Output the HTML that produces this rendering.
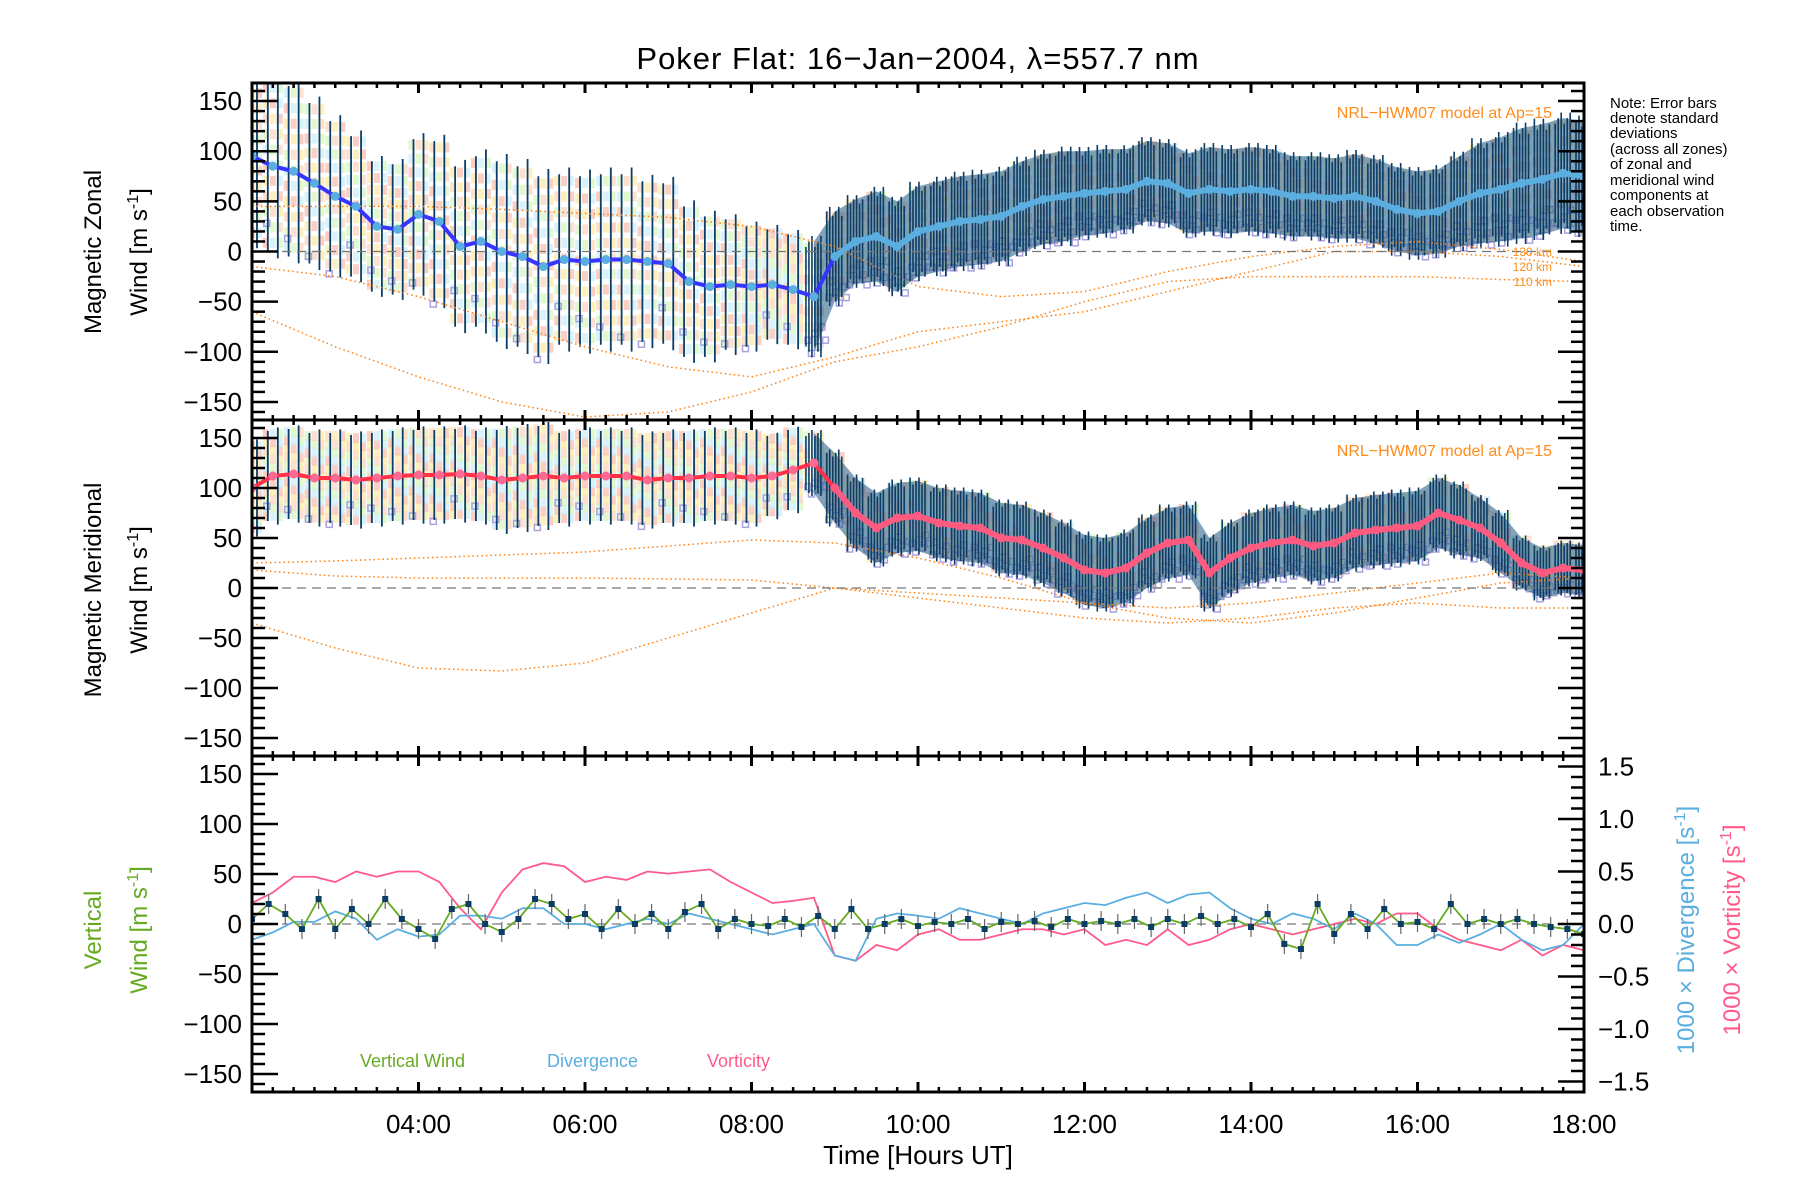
<!DOCTYPE html>
<html><head><meta charset="utf-8"><style>
html,body{margin:0;padding:0;background:#fff;}
svg{display:block;font-family:"Liberation Sans",sans-serif;}
</style></head><body>
<svg id="chart" width="1800" height="1200" viewBox="0 0 1800 1200" xmlns="http://www.w3.org/2000/svg">
<defs>
<clipPath id="c1"><rect x="252" y="83" width="1332" height="337"/></clipPath>
<clipPath id="c2"><rect x="252" y="420" width="1332" height="336"/></clipPath>
<clipPath id="c3"><rect x="252" y="756" width="1332" height="336"/></clipPath>
</defs>
<text x="918" y="69" font-size="31" text-anchor="middle" letter-spacing="1">Poker Flat: 16−Jan−2004, λ=557.7 nm</text>
<g id="p1" clip-path="url(#c1)"></g>
<g id="p2" clip-path="url(#c2)"></g>
<g id="p3" clip-path="url(#c3)"></g>
<g id="axes"></g>
<text transform="translate(101,252) rotate(-90)" font-size="24" text-anchor="middle">Magnetic Zonal</text>
<text transform="translate(147,252) rotate(-90)" font-size="24" text-anchor="middle">Wind [m s<tspan dy="-9" font-size="16">-1</tspan><tspan dy="9">]</tspan></text>
<text transform="translate(101,590) rotate(-90)" font-size="24" text-anchor="middle">Magnetic Meridional</text>
<text transform="translate(147,590) rotate(-90)" font-size="24" text-anchor="middle">Wind [m s<tspan dy="-9" font-size="16">-1</tspan><tspan dy="9">]</tspan></text>
<text transform="translate(101,930) rotate(-90)" font-size="24" text-anchor="middle" fill="#66aa22">Vertical</text>
<text transform="translate(147,930) rotate(-90)" font-size="24" text-anchor="middle" fill="#66aa22">Wind [m s<tspan dy="-9" font-size="16">-1</tspan><tspan dy="9">]</tspan></text>
<text transform="translate(1694,930) rotate(-90)" font-size="24" text-anchor="middle" fill="#5aaee0">1000 × Divergence [s<tspan dy="-9" font-size="16">-1</tspan><tspan dy="9">]</tspan></text>
<text transform="translate(1740,930) rotate(-90)" font-size="24" text-anchor="middle" fill="#ff5a8a">1000 × Vorticity [s<tspan dy="-9" font-size="16">-1</tspan><tspan dy="9">]</tspan></text>
<text x="918" y="1164" font-size="26" text-anchor="middle">Time [Hours UT]</text>
<g font-size="15" fill="#000">
<text x="1610" y="108">Note: Error bars</text><text x="1610" y="123">denote standard</text><text x="1610" y="138">deviations</text><text x="1610" y="154">(across all zones)</text><text x="1610" y="169">of zonal and</text><text x="1610" y="185">meridional wind</text><text x="1610" y="200">components at</text><text x="1610" y="216">each observation</text><text x="1610" y="231">time.</text>
</g>
<text x="1552" y="118" font-size="16" fill="#ff8c1a" text-anchor="end">NRL−HWM07 model at Ap=15</text>
<text x="1552" y="456" font-size="16" fill="#ff8c1a" text-anchor="end">NRL−HWM07 model at Ap=15</text>
<text x="1552" y="256" font-size="12" fill="#ff8c1a" text-anchor="end">130 km</text>
<text x="1552" y="271" font-size="12" fill="#ff8c1a" text-anchor="end">120 km</text>
<text x="1552" y="286" font-size="12" fill="#ff8c1a" text-anchor="end">110 km</text>
<text x="360" y="1067" font-size="18" fill="#66aa22">Vertical Wind</text>
<text x="547" y="1067" font-size="18" fill="#5aaee0">Divergence</text>
<text x="707" y="1067" font-size="18" fill="#ff5a8a">Vorticity</text>
</svg>
<script>
// ---- data ----
const hourTicks = [4,6,8,10,12,14,16,18];
const hourTickLabels = ["04:00","06:00","08:00","10:00","12:00","14:00","16:00","18:00"];
const windTicks = [-150,-100,-50,0,50,100,150];
const windTickLabels = ["−150","−100","−50","0","50","100","150"];
const ratioTicks = [-1.5,-1.0,-0.5,0,0.5,1.0,1.5];
const ratioTickLabels = ["−1.5","−1.0","−0.5","0.0","0.5","1.0","1.5"];
const gridTimes = [2,2.25,2.5,2.75,3,3.25,3.5,3.75,4,4.25,4.5,4.75,5,5.25,5.5,5.75,6,6.25,6.5,6.75,7,7.25,7.5,7.75,8,8.25,8.5,8.75,9,9.25,9.5,9.75,10,10.25,10.5,10.75,11,11.25,11.5,11.75,12,12.25,12.5,12.75,13,13.25,13.5,13.75,14,14.25,14.5,14.75,15,15.25,15.5,15.75,16,16.25,16.5,16.75,17,17.25,17.5,17.75,18];
const zonalMean = [95,85,80,68,55,45,25,22,37,30,5,10,0,-5,-15,-8,-10,-8,-8,-10,-12,-30,-35,-33,-35,-33,-38,-45,-5,10,15,5,20,25,30,32,35,45,52,55,58,60,62,70,68,58,62,60,62,60,55,55,53,55,50,42,38,40,50,58,62,68,72,78,75];
const zonalSigma = [85,85,85,80,75,70,65,65,75,80,80,85,90,90,90,85,85,85,85,80,80,75,70,65,60,55,55,55,45,42,45,45,45,45,45,45,45,45,45,45,42,42,40,40,40,40,42,42,42,42,40,40,40,42,42,42,42,42,45,50,52,55,55,55,55];
const meridMean = [100,112,114,110,110,108,110,112,113,113,114,112,108,110,112,110,112,112,112,108,110,110,112,112,110,112,118,125,100,75,60,70,72,65,62,60,50,48,40,30,18,15,20,35,45,48,15,30,40,45,48,42,45,55,58,60,62,75,68,60,45,25,15,20,18];
const meridSigma = [45,45,45,45,45,45,45,45,45,45,45,45,50,50,50,45,45,45,45,45,45,45,45,45,45,40,40,30,35,35,35,35,35,35,35,35,35,35,35,35,35,35,35,35,35,35,35,35,35,35,35,35,35,35,35,35,35,35,35,30,30,25,25,25,25];
const modelTimes = [2,3,4,5,6,7,8,9,10,11,12,13,14,15,16,17,18];
const zonal130 = [45,45,45,42,38,34,25,5,-35,-45,-40,-20,-5,5,10,2,-10];
const zonal120 = [-15,-25,-45,-70,-95,-115,-125,-105,-80,-70,-60,-40,-20,0,0,-5,-15];
const zonal110 = [-60,-95,-125,-150,-165,-160,-140,-110,-95,-75,-50,-30,-25,-25,-25,-28,-30];
const merid1 = [25,27,30,33,36,42,48,45,30,10,-15,-30,-35,-25,-10,5,10];
const merid2 = [18,12,10,10,10,9,8,0,-10,-20,-30,-35,-30,-20,-15,-20,-20];
const merid3 = [-35,-60,-80,-83,-75,-50,-25,0,-5,-10,-15,-20,-15,-5,5,15,10];
const vertTimes = [2,2.2,2.4,2.6,2.8,3,3.2,3.4,3.6,3.8,4,4.2,4.4,4.6,4.8,5,5.2,5.4,5.6,5.8,6,6.2,6.4,6.6,6.8,7,7.2,7.4,7.6,7.8,8,8.2,8.4,8.6,8.8,9,9.2,9.4,9.6,9.8,10,10.2,10.4,10.6,10.8,11,11.2,11.4,11.6,11.8,12,12.2,12.4,12.6,12.8,13,13.2,13.4,13.6,13.8,14,14.2,14.4,14.6,14.8,15,15.2,15.4,15.6,15.8,16,16.2,16.4,16.6,16.8,17,17.2,17.4,17.6,17.8,18];
const vertWind = [5,20,10,-5,25,-5,15,0,25,5,-5,-15,15,20,0,-8,5,25,20,5,10,-5,15,0,10,-5,12,20,-5,5,0,-2,5,-3,8,-5,15,-5,0,5,-2,2,0,5,-5,2,0,3,-3,5,0,3,0,5,-3,5,0,8,0,5,-3,10,-20,-25,20,-10,10,-5,15,0,2,-5,20,0,5,0,5,0,-3,-5,-10];
const divergence = [-0.15,-0.08,0.02,0.02,0.12,0.05,-0.15,-0.05,-0.12,-0.1,0.08,0.08,0.05,0.15,0.15,0,0,-0.05,0,0.05,0,0.1,0.05,0,-0.05,-0.1,-0.05,0,-0.3,-0.35,0.05,0.1,0.08,0.05,0.15,0.1,0.05,0,0.1,0.15,0.2,0.18,0.25,0.3,0.2,0.28,0.3,0.15,0.05,0,0.1,0.05,-0.05,0.1,0,-0.2,-0.2,-0.1,-0.18,-0.1,0,-0.15,-0.25,-0.2,0];
const vorticity = [0.2,0.3,0.45,0.45,0.4,0.5,0.45,0.5,0.5,0.4,0.15,-0.05,0.3,0.52,0.58,0.55,0.4,0.45,0.42,0.5,0.48,0.5,0.52,0.4,0.3,0.2,0.22,0.25,-0.3,-0.35,-0.2,-0.25,-0.1,-0.05,-0.15,-0.15,-0.1,-0.05,-0.05,-0.1,-0.05,-0.2,-0.15,-0.2,-0.05,-0.2,-0.15,-0.05,0,-0.05,-0.1,-0.05,0,0.05,0,0.1,0.1,-0.05,-0.15,-0.2,-0.25,-0.15,-0.3,-0.2,-0.25];

// ---- layout ----
const NS="http://www.w3.org/2000/svg";
const L=252,R=1584;
const panels=[{top:83,bot:420},{top:420,bot:756},{top:756,bot:1092}];
const X=t=>L+(t-2)*(R-L)/16;
const Yp=(p,v)=>{const c=(panels[p].top+panels[p].bot)/2;return c-v*(panels[p].bot-panels[p].top)/336;};
const Yr=v=>924-v*105;
function el(parent,tag,attrs){const e=document.createElementNS(NS,tag);for(const k in attrs)e.setAttribute(k,attrs[k]);parent.appendChild(e);return e;}
const g1=document.getElementById('p1'),g2=document.getElementById('p2'),g3=document.getElementById('p3'),ga=document.getElementById('axes');

function windPanel(g,p,mean,sig,lineCol,dotCol,dotCol2,models){
  const pastel=['#fde9a8','#f9c0b0','#cdeefa','#d8f5c0','#fbd6c0'];
  gridTimes.forEach((t,i)=>{
    const n=t<8.75?5:3;
    for(let k=-n;k<=n;k++){
      for(let j=0;j<3;j++){
        const r=el(g,'rect',{x:X(t)-10+j*7,y:Yp(p,mean[i]+k*sig[i]/(n+0.5))-6,width:6,height:10,fill:pastel[(k+n+i+j)%5],opacity:0.75});
        
        
      }
    }
    const cnt=t>=8.75?6:1;
    for(let j=0;j<cnt;j++){
      const q=el(g,'rect',{x:X(t)-9+j*3.5,y:Yp(p,mean[i]-sig[i]*(0.55+0.12*((j*7+i)%5)))-3,width:6,height:6,fill:'none',stroke:'#aaa2dd','stroke-width':1.5});
      
      
    }
  });
  const idx=gridTimes.map((t,i)=>i).filter(i=>gridTimes[i]>=8.75);
  let d='M'+idx.map(i=>X(gridTimes[i])+','+Yp(p,mean[i]+sig[i])).join(' L')+' L'+idx.slice().reverse().map(i=>X(gridTimes[i])+','+Yp(p,mean[i]-sig[i])).join(' L')+'Z';
  const band=el(g,'path',{d:d,fill:'#1f5580',opacity:0.55});
  
  
  gridTimes.forEach((t,i)=>{
    const offs=t>=8.75?[-8,-5,-2,1,4,7]:[-5,5];
    offs.forEach((o,j)=>{
      const s=sig[i]*(t>=8.75?(0.9+0.1*((i+j)%3)):(1+0.08*(j%2)));
      const b=el(g,'line',{x1:X(t)+o,x2:X(t)+o,y1:Yp(p,mean[i]+s),y2:Yp(p,mean[i]-s),stroke:'#0b3d66','stroke-width':t>=8.75?1.6:1.8});
      
      
    });
  });
  models.forEach(m=>{
    const pl=el(g,'polyline',{points:modelTimes.map((t,i)=>X(t)+','+Yp(p,m[i])).join(' '),fill:'none',stroke:'#ff8010','stroke-width':1.5,'stroke-dasharray':'1.5 3'});
    
    
  });
  const z=el(g,'line',{x1:L,x2:R,y1:Yp(p,0),y2:Yp(p,0),stroke:'#777','stroke-width':1.3,'stroke-dasharray':'9 6'});
  
  
  const ml=el(g,'polyline',{points:gridTimes.map((t,i)=>X(t)+','+Yp(p,mean[i])).join(' '),fill:'none',stroke:lineCol,'stroke-width':4});
  
  
  const late=gridTimes.map((t,i)=>i).filter(i=>gridTimes[i]>=9);
  const ml2=el(g,'polyline',{points:late.map(i=>X(gridTimes[i])+','+Yp(p,mean[i])).join(' '),fill:'none',stroke:dotCol2,'stroke-width':6});
  
  
  gridTimes.forEach((t,i)=>{
    const c=el(g,'circle',{cx:X(t),cy:Yp(p,mean[i]),r:4.5,fill:t>=9?dotCol2:dotCol});
    
    
  });
}
windPanel(g1,0,zonalMean,zonalSigma,'#3535ff','#5aaee0','#5aaee0',[zonal130,zonal120,zonal110]);
windPanel(g2,1,meridMean,meridSigma,'#ff3048','#ff6a94','#ff5a80',[merid1,merid2,merid3]);

// panel 3
const z3=el(g3,'line',{x1:L,x2:R,y1:Yp(2,0),y2:Yp(2,0),stroke:'#777','stroke-width':1.3,'stroke-dasharray':'9 6'});


const vor=el(g3,'polyline',{points:gridTimes.map((t,i)=>X(t)+','+Yr(vorticity[i])).join(' '),fill:'none',stroke:'#ff5a8a','stroke-width':1.8});


const dv=el(g3,'polyline',{points:gridTimes.map((t,i)=>X(t)+','+Yr(divergence[i])).join(' '),fill:'none',stroke:'#5aaee0','stroke-width':1.8});


const vw=el(g3,'polyline',{points:vertTimes.map((t,i)=>X(t)+','+Yp(2,vertWind[i])).join(' '),fill:'none',stroke:'#66aa22','stroke-width':1.8});


vertTimes.forEach((t,i)=>{
  const e=el(g3,'line',{x1:X(t),x2:X(t),y1:Yp(2,vertWind[i]+10),y2:Yp(2,vertWind[i]-10),stroke:'#666','stroke-width':1.2});
  
  
  const s=el(g3,'rect',{x:X(t)-3,y:Yp(2,vertWind[i])-3,width:6,height:6,fill:'#0b3d66'});
  
  
});

// axes
panels.forEach((pn,p)=>{
  const f=el(ga,'rect',{x:L,y:pn.top,width:R-L,height:pn.bot-pn.top,fill:'none',stroke:'#000','stroke-width':3});
  
  
  for(let t=2;t<=18.001;t+=0.25){
    const maj=Math.abs(t%2)<0.01;const len=maj?10:5;
    el(ga,'line',{x1:X(t),x2:X(t),y1:pn.bot,y2:pn.bot-len,stroke:'#000','stroke-width':maj?3:2.5});
    el(ga,'line',{x1:X(t),x2:X(t),y1:pn.top,y2:pn.top+len,stroke:'#000','stroke-width':maj?3:2.5});
  }
  for(let v=-160;v<=160;v+=10){
    const maj=v%50===0;const len=maj?26:13;const y=Yp(p,v);
    el(ga,'line',{x1:L,x2:L+len,y1:y,y2:y,stroke:'#000','stroke-width':2.5});
    if(p<2) el(ga,'line',{x1:R,x2:R-len,y1:y,y2:y,stroke:'#000','stroke-width':2.5});
  }
  windTicks.forEach((v,i)=>{
    const t=el(ga,'text',{x:L-10,y:Yp(p,v)+9,'font-size':26,'text-anchor':'end'});
    t.textContent=windTickLabels[i];
    
    
  });
});
for(let v=-1.6;v<=1.61;v+=0.1){
  const maj=Math.abs(Math.round(v*10))%5===0;const len=maj?26:13;
  el(ga,'line',{x1:R,x2:R-len,y1:Yr(v),y2:Yr(v),stroke:'#000','stroke-width':2.5});
}
ratioTicks.forEach((v,i)=>{
  const t=el(ga,'text',{x:1598,y:Yr(v)+9,'font-size':26});
  t.textContent=ratioTickLabels[i];
  
  
});
hourTicks.forEach((h,i)=>{
  const t=el(ga,'text',{x:X(h),y:1133,'font-size':26,'text-anchor':'middle'});
  t.textContent=hourTickLabels[i];
  
  
});
</script>
</body></html>
